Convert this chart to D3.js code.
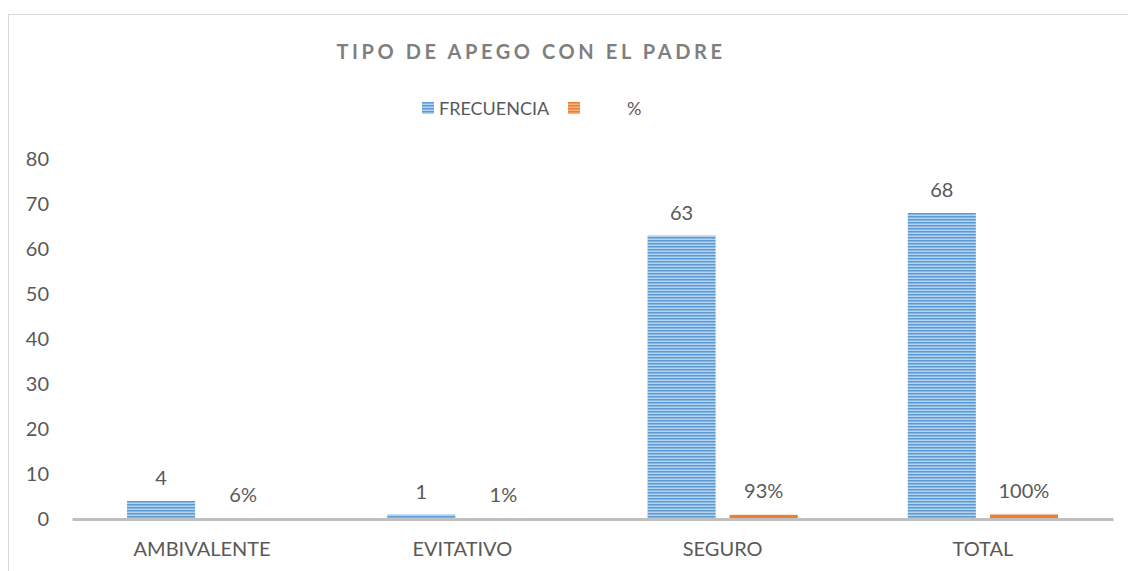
<!DOCTYPE html>
<html>
<head>
<meta charset="utf-8">
<script src="https://cdn.jsdelivr.net/npm/d3@7"></script>
<style>
  body { margin: 0; background: #fff; }
  text { font-family: Lato, "Open Sans", sans-serif; fill: #595959; }
</style>
</head>
<body>
<svg width="1128" height="571"></svg>
<script>
// data
var categories = ["AMBIVALENTE", "EVITATIVO", "SEGURO", "TOTAL"];
var frecuencia = [4, 1, 63, 68];
var porcentaje = [0.06, 0.01, 0.93, 1.00];
var porcentajeLabels = ["6%", "1%", "93%", "100%"];
var seriesNames = ["FRECUENCIA", "%"];
var yTicks = [0, 10, 20, 30, 40, 50, 60, 70, 80];

var svg = d3.select("svg");

/** chart border (only left and top visible) **/
svg.append("rect")
  .attr("x", 8.5).attr("y", 14.5)
  .attr("width", 1140).attr("height", 600)
  .attr("fill", "none").attr("stroke", "#d9d9d9");

/** stripe patterns **/
var defs = svg.append("defs");
function stripes(id, light, dark) {
  var p = defs.append("pattern")
    .attr("id", id).attr("patternUnits", "userSpaceOnUse")
    .attr("width", 10).attr("height", 3);
  p.append("rect").attr("width", 10).attr("height", 3).attr("fill", light);
  p.append("rect").attr("width", 10).attr("height", 1.5).attr("fill", dark);
}
stripes("blueStripe", "#b4d2ee", "#5b9bd5");
stripes("orangeStripe", "#f4b183", "#ed7d31");

var x = d3.scaleBand().domain(categories).range([72, 1113]).padding(0);
var inner = d3.scaleBand().domain(seriesNames).range([0, x.bandwidth()])
  .paddingInner(14 / 82).paddingOuter(0.67);
var y = d3.scaleLinear().domain([0, 80]).range([519, 159]);

/** title **/
svg.append("text")
  .attr("x", 531).attr("y", 59)
  .attr("text-anchor", "middle")
  .style("font-size", "20px").style("font-weight", "bold")
  .style("letter-spacing", "3.6px").style("fill", "#7f7f7f")
  .text("TIPO DE APEGO CON EL PADRE");

/** legend **/
var legend = svg.append("g");
legend.append("rect").attr("x", 422).attr("y", 102).attr("width", 12).attr("height", 12)
  .attr("fill", "url(#blueStripe)");
legend.append("text").attr("x", 439).attr("y", 115).style("font-size", "18px").text("FRECUENCIA");
legend.append("rect").attr("x", 568).attr("y", 102).attr("width", 12).attr("height", 12)
  .attr("fill", "url(#orangeStripe)");
legend.append("text").attr("x", 627).attr("y", 115).style("font-size", "18px").text("%");

/** y axis labels **/
svg.append("g").selectAll("text")
  .data(yTicks).enter().append("text")
  .attr("x", 49).attr("y", function(d) { return y(d); })
  .attr("dy", "0.35em").attr("text-anchor", "end")
  .style("font-size", "20px")
  .text(function(d) { return d; });

/** bars **/
var rows = categories.map(function(c, i) {
  return { cat: c, f: frecuencia[i], p: porcentaje[i], pl: porcentajeLabels[i] };
});

var groups = svg.append("g").selectAll("g")
  .data(rows).enter().append("g")
  .attr("transform", function(d) { return "translate(" + x(d.cat) + ",0)"; });

groups.append("rect")
  .attr("x", inner("FRECUENCIA"))
  .attr("y", function(d) { return y(d.f); })
  .attr("width", inner.bandwidth())
  .attr("height", function(d) { return y(0) - y(d.f); })
  .attr("fill", "url(#blueStripe)");

groups.append("rect")
  .attr("x", inner("%"))
  .attr("y", function(d) { return y(d.p); })
  .attr("width", inner.bandwidth())
  .attr("height", function(d) { return y(0) - y(d.p); })
  .attr("fill", "#ed7d31");

groups.append("text")
  .attr("x", inner("FRECUENCIA") + inner.bandwidth() / 2)
  .attr("y", function(d) { return y(d.f) - 16; })
  .attr("text-anchor", "middle").style("font-size", "20px")
  .text(function(d) { return d.f; });

groups.append("text")
  .attr("x", inner("%") + inner.bandwidth() / 2)
  .attr("y", function(d) { return y(d.p) - 17; })
  .attr("text-anchor", "middle").style("font-size", "20px")
  .text(function(d) { return d.pl; });

/** x axis **/
var xaxis = d3.axisBottom(x).tickSize(0).tickPadding(23);
var gx = svg.append("g").attr("transform", "translate(0,519)").call(xaxis);
gx.select(".domain").attr("stroke", "#bfbfbf").attr("stroke-width", 3);
gx.selectAll("text")
  .style("font-size", "20px")
  .style("font-family", "Lato, 'Open Sans', sans-serif")
  .style("fill", "#595959");
</script>
</body>
</html>
